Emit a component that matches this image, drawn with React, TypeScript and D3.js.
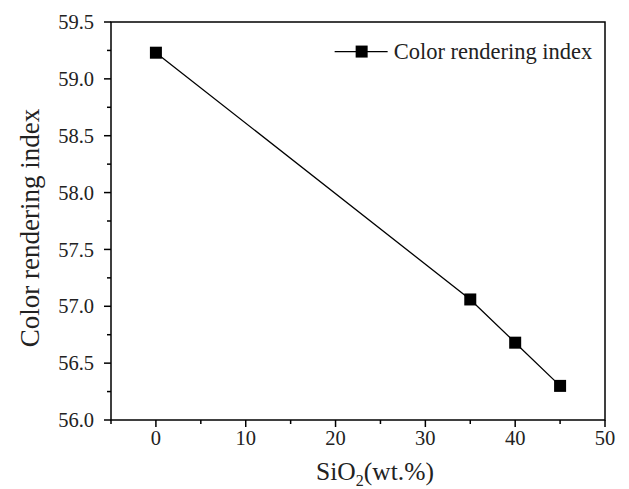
import React from 'react';
import * as d3 from 'd3';

// chart values
const sio2 = [0, 35, 40, 45];
const cri = [59.23, 57.06, 56.68, 56.3];
const xTicks = [0, 10, 20, 30, 40, 50];
const yTicks = [56.0, 56.5, 57.0, 57.5, 58.0, 58.5, 59.0, 59.5];
const seriesName = 'Color rendering index';

const App = () => {
  const width = 629;
  const height = 489;
  const margin = { top: 22, right: 24, bottom: 69, left: 111 };
  const innerW = width - margin.left - margin.right;
  const innerH = height - margin.top - margin.bottom;
  const font = '"Liberation Serif", "Times New Roman", serif';

  const x = d3.scaleLinear().domain([-5, 50]).range([0, innerW]);
  const y = d3.scaleLinear().domain([56, 59.5]).range([innerH, 0]);

  const line = d3.line<number>()
    .x((d, i) => x(sio2[i]))
    .y(d => y(d));

  const xMinor = d3.range(-5, 51, 5).filter(v => !xTicks.includes(v));
  const yMinor = d3.range(56.25, 59.5, 0.5);

  return (
    <svg width={width} height={height} style={{ position: 'absolute', left: 0, top: 0, background: '#fff' }}>
      <g transform={`translate(${margin.left},${margin.top})`}>
        <rect x={0} y={0} width={innerW} height={innerH} fill="none" stroke="#000" strokeWidth={1.5} />

        {xTicks.map(t => (
          <g key={`xt${t}`}>
            <line x1={x(t)} x2={x(t)} y1={innerH} y2={innerH + 7} stroke="#000" strokeWidth={1.5} />
            <text x={x(t)} y={innerH + 25} textAnchor="middle" fontFamily={font} fontSize={20.5} fill="#222">{t}</text>
          </g>
        ))}
        {xMinor.map(t => (
          <line key={`xm${t}`} x1={x(t)} x2={x(t)} y1={innerH} y2={innerH + 4} stroke="#000" strokeWidth={1.5} />
        ))}

        {yTicks.map(t => (
          <g key={`yt${t}`}>
            <line x1={-7} x2={0} y1={y(t)} y2={y(t)} stroke="#000" strokeWidth={1.5} />
            <text x={-17} y={y(t)} dy="0.35em" textAnchor="end" fontFamily={font} fontSize={20.5} fill="#222">{t.toFixed(1)}</text>
          </g>
        ))}
        {yMinor.map(t => (
          <line key={`ym${t}`} x1={-4} x2={0} y1={y(t)} y2={y(t)} stroke="#000" strokeWidth={1.5} />
        ))}

        <path d={line(cri) ?? ''} fill="none" stroke="#000" strokeWidth={1.3} />
        {cri.map((v, i) => (
          <rect key={`p${i}`} x={x(sio2[i]) - 6} y={y(v) - 6} width={12} height={12} fill="#000" />
        ))}

        {/* legend */}
        <g transform={`translate(${x(19.9)},${y(59.24)})`}>
          <line x1={0} x2={53} y1={0} y2={0} stroke="#000" strokeWidth={1.3} />
          <rect x={21} y={-6} width={12} height={12} fill="#000" />
          <text x={59} y={0} dy="0.33em" fontFamily={font} fontSize={22.5} fill="#222">{seriesName}</text>
        </g>
      </g>

      <text
        transform={`translate(39,${margin.top + innerH / 2 + 7}) rotate(-90)`}
        textAnchor="middle"
        fontFamily={font}
        fontSize={27}
        fill="#222"
      >
        {seriesName}
      </text>
      <text x={margin.left + innerW / 2 + 17} y={480} textAnchor="middle" fontFamily={font} fontSize={25.5} fill="#222">
        SiO<tspan fontSize={16} dy={6}>2</tspan><tspan dy={-6}>(wt.%)</tspan>
      </text>
    </svg>
  );
};

export default App;
